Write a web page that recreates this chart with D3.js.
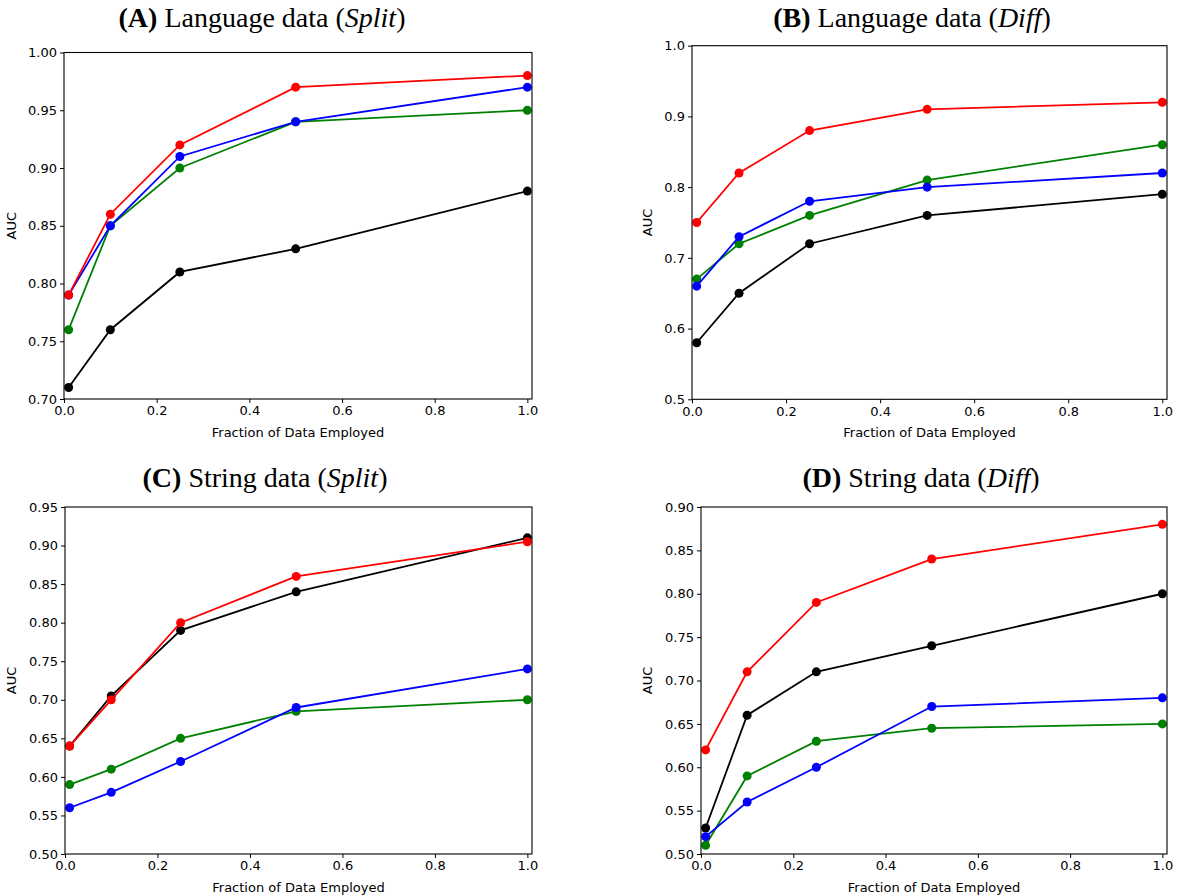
<!DOCTYPE html>
<html>
<head>
<meta charset="utf-8">
<script src="https://cdn.jsdelivr.net/npm/d3@7"></script>
<style>
  body { margin: 0; background: #fff; }
  svg { display: block; }
  .tick text { font-family: "DejaVu Sans", sans-serif; font-size: 13px; fill: #000; }
  .axlabel { font-family: "DejaVu Sans", sans-serif; font-size: 13px; fill: #000; }
  .ttl { font-family: "Liberation Serif", "Times New Roman", serif; font-size: 28px; fill: #000; }
</style>
</head>
<body>
<svg id="fig" width="1178" height="896"></svg>
<script>
// fraction of data on the x axis, same for every panel
var fractions = [0.01, 0.1, 0.25, 0.5, 1.0]
var xTicks = [0.0, 0.2, 0.4, 0.6, 0.8, 1.0]

// (A) Language data (Split)
var aBlack = [0.71, 0.76, 0.81, 0.83, 0.88]
var aGreen = [0.76, 0.85, 0.90, 0.94, 0.95]
var aBlue  = [0.79, 0.85, 0.91, 0.94, 0.97]
var aRed   = [0.79, 0.86, 0.92, 0.97, 0.98]
var aTicks = [0.70, 0.75, 0.80, 0.85, 0.90, 0.95, 1.00]

// (B) Language data (Diff)
var bBlack = [0.58, 0.65, 0.72, 0.76, 0.79]
var bGreen = [0.67, 0.72, 0.76, 0.81, 0.86]
var bBlue  = [0.66, 0.73, 0.78, 0.80, 0.82]
var bRed   = [0.75, 0.82, 0.88, 0.91, 0.92]
var bTicks = [0.5, 0.6, 0.7, 0.8, 0.9, 1.0]

// (C) String data (Split)
var cBlack = [0.64, 0.705, 0.79, 0.84, 0.91]
var cGreen = [0.59, 0.61, 0.65, 0.685, 0.70]
var cBlue  = [0.56, 0.58, 0.62, 0.69, 0.74]
var cRed   = [0.64, 0.70, 0.80, 0.86, 0.905]
var cTicks = [0.50, 0.55, 0.60, 0.65, 0.70, 0.75, 0.80, 0.85, 0.90, 0.95]

// (D) String data (Diff)
var dBlack = [0.53, 0.66, 0.71, 0.74, 0.80]
var dGreen = [0.51, 0.59, 0.63, 0.645, 0.65]
var dBlue  = [0.52, 0.56, 0.60, 0.67, 0.68]
var dRed   = [0.62, 0.71, 0.79, 0.84, 0.88]
var dTicks = [0.50, 0.55, 0.60, 0.65, 0.70, 0.75, 0.80, 0.85, 0.90]

var colors = ["#000000", "#008000", "#0000ff", "#ff0000"]  // draw order: black, green, blue, red

var panels = [
  {letter: "A", name: "Language data", kind: "Split", series: [aBlack, aGreen, aBlue, aRed], ticks: aTicks, fmt: ".2f",
   left: 64, right: 532, top: 52.5, bottom: 399, titleX: 262, titleY: 27, ylabX: 16},
  {letter: "B", name: "Language data", kind: "Diff", series: [bBlack, bGreen, bBlue, bRed], ticks: bTicks, fmt: ".1f",
   left: 692, right: 1167, top: 45.7, bottom: 399.3, titleX: 912, titleY: 27, ylabX: 652},
  {letter: "C", name: "String data", kind: "Split", series: [cBlack, cGreen, cBlue, cRed], ticks: cTicks, fmt: ".2f",
   left: 65, right: 532, top: 507, bottom: 854, titleX: 265, titleY: 487, ylabX: 16},
  {letter: "D", name: "String data", kind: "Diff", series: [dBlack, dGreen, dBlue, dRed], ticks: dTicks, fmt: ".2f",
   left: 701, right: 1167, top: 507, bottom: 854, titleX: 921, titleY: 487, ylabX: 652}
]

var svg = d3.select("#fig")

panels.forEach(function(p){
    var x = d3.scaleLinear().domain([0, 1.01]).range([p.left, p.right])
    var y = d3.scaleLinear().domain([p.ticks[0], p.ticks[p.ticks.length-1]]).range([p.bottom, p.top])
    var g = svg.append("g")

    // title, mixed bold / roman / italic like the LaTeX caption
    var t = g.append("text").attr("class", "ttl").attr("x", p.titleX).attr("y", p.titleY).attr("text-anchor", "middle")
    t.append("tspan").attr("font-weight", "bold").text("(" + p.letter + ")")
    t.append("tspan").text(" " + p.name + " (")
    t.append("tspan").attr("font-style", "italic").text(p.kind)
    t.append("tspan").text(")")

    var xAxis = d3.axisBottom(x).tickValues(xTicks).tickFormat(d3.format(".1f")).tickSize(4).tickPadding(3)
    var yAxis = d3.axisLeft(y).tickValues(p.ticks).tickFormat(d3.format(p.fmt)).tickSize(4).tickPadding(3)

    g.append("g").attr("transform", "translate(0," + p.bottom + ")").call(xAxis)
      .call(function(a){ a.select(".domain").remove() })
    g.append("g").attr("transform", "translate(" + p.left + ",0)").call(yAxis)
      .call(function(a){ a.select(".domain").remove() })
    g.selectAll(".tick line").attr("stroke", "#000").attr("stroke-width", 1)

    // lines and markers
    var line = d3.line().x(function(d, i){ return x(fractions[i]) }).y(function(d){ return y(d) })
    p.series.forEach(function(s, k){
        g.append("path").attr("d", line(s)).attr("fill", "none")
          .attr("stroke", colors[k]).attr("stroke-width", 1.8)
        g.selectAll(null).data(s).enter().append("circle")
          .attr("cx", function(d, i){ return x(fractions[i]) })
          .attr("cy", function(d){ return y(d) })
          .attr("r", 4.5).attr("fill", colors[k])
    })

    // frame
    g.append("rect").attr("x", p.left).attr("y", p.top)
      .attr("width", p.right - p.left).attr("height", p.bottom - p.top)
      .attr("fill", "none").attr("stroke", "#000").attr("stroke-width", 1.1)

    g.append("text").attr("class", "axlabel").attr("text-anchor", "middle")
      .attr("x", (p.left + p.right) / 2).attr("y", p.bottom + 38)
      .text("Fraction of Data Employed")
    g.append("text").attr("class", "axlabel").attr("text-anchor", "middle")
      .attr("transform", "translate(" + p.ylabX + "," + (p.top + p.bottom) / 2 + ") rotate(-90)")
      .text("AUC")
})
</script>
</body>
</html>
